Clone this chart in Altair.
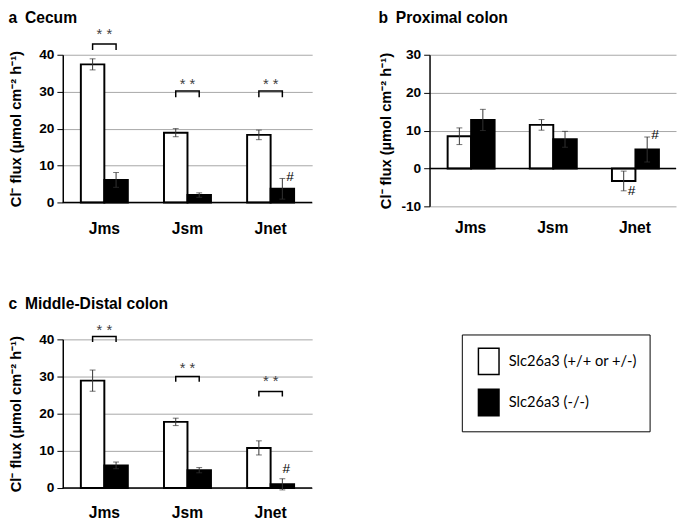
import altair as alt
import pandas as pd

categories = ["Jms", "Jsm", "Jnet"]
genotypes = ["Slc26a3 (+/+ or +/-)", "Slc26a3 (-/-)"]

# a Cecum
cecum_wt = [37.4, 18.9, 18.3]
cecum_wt_err = [1.5, 1.1, 1.3]
cecum_ko = [6.1, 2.0, 3.7]
cecum_ko_err = [2.0, 0.6, 2.8]

# b Proximal colon
prox_wt = [8.5, 11.5, -3.3]
prox_wt_err = [2.2, 1.4, 2.6]
prox_ko = [12.8, 7.7, 5.0]
prox_ko_err = [2.8, 2.1, 3.3]

# c Middle-Distal colon
dist_wt = [28.9, 17.8, 10.8]
dist_wt_err = [2.85, 1.0, 1.9]
dist_ko = [6.1, 4.8, 1.0]
dist_ko_err = [0.9, 0.7, 1.5]

# significance brackets (**): bracket top, leg end, star level
cecum_brk_top = [42.9, 30.2, 30.2]
cecum_brk_leg = [41.3, 28.5, 28.5]
cecum_star = [45.5, 32.1, 32.1]
dist_brk_top = [40.8, 30.0, 26.0]
dist_brk_leg = [39.3, 28.6, 24.6]
dist_star = [42.6, 32.4, 28.7]

# '#' markers: category, genotype index, level
cecum_hash_cat = ["Jnet"]; cecum_hash_g = [1]; cecum_hash_y = [6.75]
prox_hash_cat = ["Jnet", "Jnet"]; prox_hash_g = [0, 1]; prox_hash_y = [-5.9, 8.7]
dist_hash_cat = ["Jnet"]; dist_hash_g = [1]; dist_hash_y = [5.1]

FONT = "Liberation Sans"
YTITLE = "Cl\u207b flux (\u00b5mol cm\u207b\u00b2 h\u207b\u00b9)"


def panel(title, wt, wt_err, ko, ko_err, ydomain, width, height, title_offset,
          label_pad, title_pad, brk=None, hashes=None, hash_dx=8, legend=None):
    rows = []
    for i, c in enumerate(categories):
        for g, v, e in ((genotypes[0], wt[i], wt_err[i]), (genotypes[1], ko[i], ko_err[i])):
            rows.append(dict(cat=c, g=g, v=v, lo=v - e, hi=v + e))
    df = pd.DataFrame(rows)

    x = alt.X("cat:N", sort=categories,
              scale=alt.Scale(paddingInner=0, paddingOuter=0),
              axis=alt.Axis(title=None, labelAngle=0, ticks=False, tickSize=0, domain=False,
                            labelPadding=label_pad, labelFontSize=16, labelFontWeight="bold",
                            labelFont=FONT, labelColor="black"))
    xo = alt.XOffset("g:N", sort=genotypes, scale=alt.Scale(paddingInner=0, paddingOuter=0.77))
    yscale = alt.Scale(domain=ydomain, nice=False, zero=False)
    yaxis = alt.Axis(values=list(range(ydomain[0], ydomain[1] + 1, 10)), title=YTITLE,
                     labelExpr="'' + datum.value", labelOverlap=False,
                     titleFont=FONT, titleFontSize=15, titleFontWeight="bold", titleColor="black",
                     titlePadding=title_pad, labelFont=FONT, labelFontSize=14,
                     labelFontWeight="bold", labelColor="black", labelPadding=3, tickSize=6,
                     tickColor="black", domainColor="black", domainWidth=1.5,
                     gridColor="#a6a6a6", gridWidth=1)

    def Y(field):
        return alt.Y(field, scale=yscale, axis=yaxis, stack=None)

    base = alt.Chart(df)
    fill = alt.Fill("g:N", scale=alt.Scale(domain=genotypes, range=["white", "black"]),
                    legend=legend)
    bars = base.mark_bar(stroke="black", strokeWidth=2).encode(
        x=x, xOffset=xo, y=Y("v:Q"), fill=fill)
    zero = alt.Chart(pd.DataFrame({"z": [0]})).mark_rule(color="black", strokeWidth=1.5).encode(
        y=Y("z:Q"))
    err = base.mark_rule(color="#333333", strokeWidth=1).encode(
        x=x, xOffset=xo, y=Y("lo:Q"), y2="hi:Q")
    cap_hi = base.mark_tick(orient="horizontal", size=6, thickness=1, color="#333333").encode(
        x=x, xOffset=xo, y=Y("hi:Q"))
    cap_lo = base.mark_tick(orient="horizontal", size=6, thickness=1, color="#333333").encode(
        x=x, xOffset=xo, y=Y("lo:Q"))
    layers = [bars, zero, err, cap_hi, cap_lo]

    if brk is not None:
        top, leg, star = brk
        brows = []
        for i, c in enumerate(categories):
            brows += [dict(cat=c, g=genotypes[0], y=leg[i], o=0),
                      dict(cat=c, g=genotypes[0], y=top[i], o=1),
                      dict(cat=c, g=genotypes[1], y=top[i], o=2),
                      dict(cat=c, g=genotypes[1], y=leg[i], o=3)]
        bdf = pd.DataFrame(brows)
        layers.append(alt.Chart(bdf).mark_line(color="black", strokeWidth=1.5).encode(
            x=x, xOffset=xo, y=Y("y:Q"), detail="cat:N", order="o:Q"))
        sdf = pd.DataFrame({"cat": categories, "y": star})
        layers.append(alt.Chart(sdf).mark_text(text="* *", font=FONT, fontSize=15,
                                               color="#404040", baseline="middle").encode(
            x=x, y=Y("y:Q")))
    if hashes is not None:
        hc, hg, hy = hashes
        hdf = pd.DataFrame({"cat": hc, "g": [genotypes[k] for k in hg], "y": hy})
        layers.append(alt.Chart(hdf).mark_text(text="#", font=FONT, fontSize=14, dx=hash_dx,
                                               color="black", baseline="middle").encode(
            x=x, xOffset=xo, y=Y("y:Q")))

    return alt.layer(*layers).properties(
        width=width, height=height,
        title=alt.TitleParams(title, anchor="start", frame="bounds", font=FONT, fontSize=16,
                              fontWeight="bold", color="black", offset=title_offset))


legend_c = alt.Legend(title=None, orient="none", legendX=408, legendY=-5,
                      strokeColor="black", padding=13,
                      symbolType="M-0.78,-1H0.78V1H-0.78Z", symbolSize=729,
                      symbolStrokeColor="black", symbolStrokeWidth=1.5,
                      labelFont="Lato", labelFontSize=15, labelColor="black",
                      labelOffset=6, rowPadding=9)

a = panel("a\u2002Cecum", cecum_wt, cecum_wt_err, cecum_ko, cecum_ko_err, [0, 40], 255, 151,
          2, 19, 16, brk=(cecum_brk_top, cecum_brk_leg, cecum_star),
          hashes=(cecum_hash_cat, cecum_hash_g, cecum_hash_y), hash_dx=8)
b = panel("b\u2002Proximal colon", prox_wt, prox_wt_err, prox_ko, prox_ko_err, [-10, 30], 252,
          155, 22, 14, 8, hashes=(prox_hash_cat, prox_hash_g, prox_hash_y), hash_dx=8)
c = panel("c\u2002Middle-Distal colon", dist_wt, dist_wt_err, dist_ko, dist_ko_err, [0, 40], 255,
          152, 11, 17, 16, brk=(dist_brk_top, dist_brk_leg, dist_star),
          hashes=(dist_hash_cat, dist_hash_g, dist_hash_y), hash_dx=4, legend=legend_c)

chart = alt.concat(a, b, c, columns=2, spacing={"row": 136, "column": 120},
                   bounds="flush").resolve_scale(fill="independent").properties(
    padding={"top": -4, "left": 0, "right": 0, "bottom": 0}).configure_view(stroke=None)

chart.save("out.html", embed_options={"renderer": "svg", "actions": False})
